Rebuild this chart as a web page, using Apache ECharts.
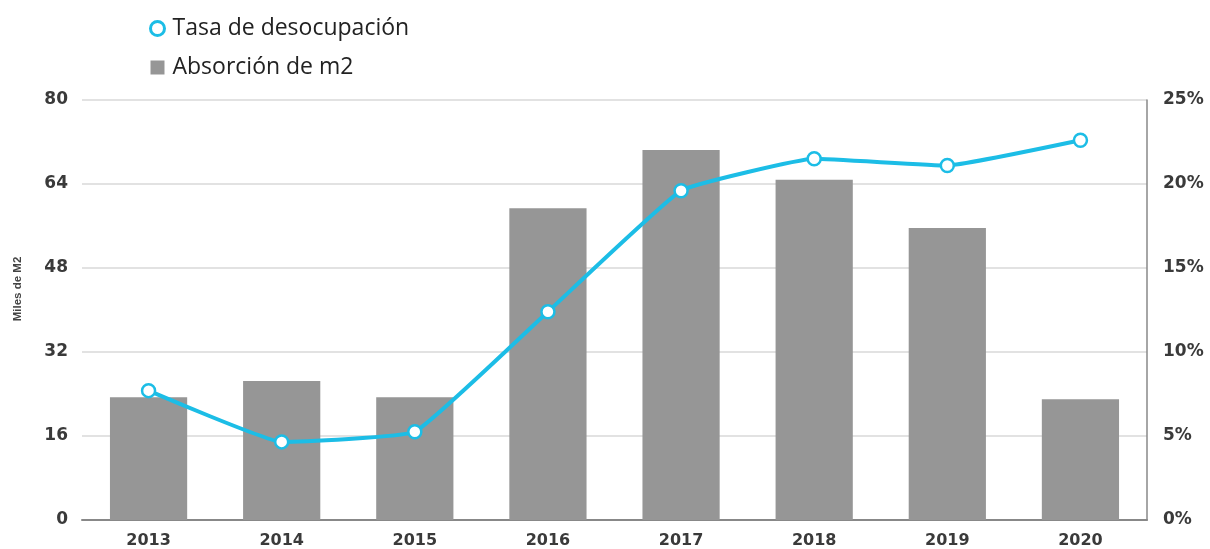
<!DOCTYPE html>
<html>
<head>
<meta charset="utf-8">
<script src="https://cdn.jsdelivr.net/npm/echarts@6/dist/echarts.min.js"></script>
<style>
  html, body { margin: 0; padding: 0; background: #fff; }
  #chart { width: 1210px; height: 549px; }
</style>
</head>
<body>
<div id="chart"></div>
<script>
const years = ['2013', '2014', '2015', '2016', '2017', '2018', '2019', '2020'];
// miles de m2
const absorcion = [23.4, 26.5, 23.4, 59.4, 70.5, 64.8, 55.6, 23.0];
// porcentaje
const desocupacion = [7.7, 4.65, 5.25, 12.4, 19.6, 21.5, 21.1, 22.6];

const chart = echarts.init(document.getElementById('chart'));
const axisFont = { fontFamily: 'DejaVu Sans', fontWeight: 'bold', fontSize: 17, color: '#3a3a3a' };
const cyan = '#1cbde6';

chart.setOption({
    animation: false,
    legend: {
        orient: 'vertical',
        left: 144,
        top: 11,
        itemGap: 14,
        itemWidth: 14,
        itemHeight: 14,
        textStyle: { fontFamily: 'Open Sans', fontSize: 23, lineHeight: 25, color: '#222', padding: [0, 0, 0, 3] },
        data: [
            { name: 'Tasa de desocupación', icon: 'circle',
              itemStyle: { color: '#fff', borderColor: cyan, borderWidth: 3 } },
            { name: 'Absorción de m2', icon: 'rect' }
        ]
    },
    graphic: [{
        type: 'text',
        x: 18, y: 289,
        rotation: Math.PI / 2,
        style: {
            text: 'Miles de M2',
            fontFamily: 'Liberation Sans', fontWeight: 'bold', fontSize: 11.5,
            fill: '#444', align: 'center', verticalAlign: 'middle'
        }
    }],
    grid: { left: 82, right: 63, top: 100, bottom: 29 },
    xAxis: {
        type: 'category',
        data: years,
        axisLine: { lineStyle: { color: '#888', width: 2 } },
        axisTick: { show: false },
        axisLabel: Object.assign({ margin: 13 }, axisFont, { fontSize: 16 })
    },
    yAxis: [
        {
            type: 'value',
            min: 0, max: 80, interval: 16,
            axisLine: { show: false },
            axisTick: { show: false },
            axisLabel: Object.assign({ margin: 14 }, axisFont),
            splitLine: { lineStyle: { color: '#d9d9d9', width: 1.5 } }
        },
        {
            type: 'value',
            min: 0, max: 25, interval: 5,
            position: 'right',
            axisLine: { show: true, lineStyle: { color: '#888', width: 1.5 } },
            axisTick: { show: false },
            axisLabel: Object.assign({ margin: 16, formatter: '{value}%' }, axisFont),
            splitLine: { show: false }
        }
    ],
    series: [
        {
            name: 'Absorción de m2',
            type: 'bar',
            data: absorcion,
            barWidth: '58%',
            itemStyle: { color: '#969696' }
        },
        {
            name: 'Tasa de desocupación',
            type: 'line',
            yAxisIndex: 1,
            data: desocupacion,
            smooth: 0.1,
            symbol: 'circle',
            symbolSize: 13,
            lineStyle: { color: cyan, width: 4 },
            itemStyle: { color: '#fff', borderColor: cyan, borderWidth: 2.5 },
            z: 5
        }
    ]
});
</script>
</body>
</html>
